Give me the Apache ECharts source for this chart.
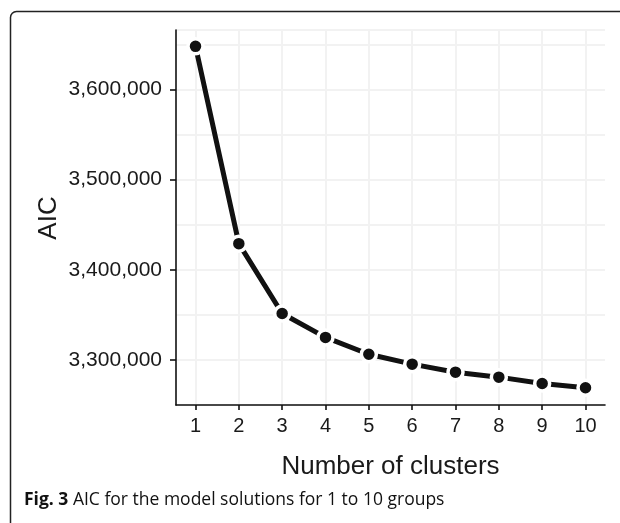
<!DOCTYPE html>
<html>
<head>
<meta charset="utf-8">
<script src="https://cdn.jsdelivr.net/npm/echarts@6/dist/echarts.min.js"></script>
<style>
html,body{margin:0;padding:0;background:#fff;}
#chart{width:620px;height:523px;}
</style>
</head>
<body>
<div id="chart"></div>
<script>
// Data
var clusters = [1, 2, 3, 4, 5, 6, 7, 8, 9, 10];
var aicValues = [3647900, 3429000, 3351500, 3325000, 3306300, 3295300, 3286400, 3280900, 3273900, 3269100];
var yTickValues = [3300000, 3400000, 3500000, 3600000];
var yMinorGridStep = 50000;
var xTickValues = [1, 2, 3, 4, 5, 6, 7, 8, 9, 10];
var xTitle = 'Number of clusters';
var yTitle = 'AIC';
var captionBold = 'Fig. 3';
var captionText = ' AIC for the model solutions for 1 to 10 groups';

function fmt(v) {
  return String(v).replace(/\B(?=(\d{3})+(?!\d))/g, ',');
}

var chart = echarts.init(document.getElementById('chart'), null, {renderer: 'canvas'});
var textColor = '#1a1a1a';
var gridColor = '#f2f2f2';
var font = 'Liberation Sans, Arial, Helvetica, sans-serif';

chart.setOption({
  animation: false,
  backgroundColor: '#fff',
  grid: {left: 176, right: 15, top: 30, bottom: 118, containLabel: false},
  xAxis: {
    type: 'value',
    min: 0.55,
    max: 10.45,
    name: xTitle,
    nameLocation: 'middle',
    nameGap: 49,
    nameTextStyle: {fontFamily: font, fontSize: 26, color: textColor},
    axisLine: {show: true, onZero: false, lineStyle: {color: '#111', width: 1.6}},
    axisTick: {show: true, length: 5, customValues: xTickValues, lineStyle: {color: '#111', width: 1.6}},
    axisLabel: {show: true, customValues: xTickValues, margin: 11, fontFamily: font, fontSize: 20, color: textColor},
    splitLine: {show: true, lineStyle: {color: gridColor, width: 2}}
  },
  yAxis: [
    {
      type: 'value',
      min: 3250000,
      max: 3666000,
      interval: yMinorGridStep,
      axisLine: {show: true, onZero: false, lineStyle: {color: '#111', width: 1.6}},
      axisTick: {show: false},
      axisLabel: {show: false},
      splitLine: {show: true, lineStyle: {color: gridColor, width: 2}}
    },
    {
      type: 'value',
      position: 'left',
      min: 3250000,
      max: 3666000,
      axisLine: {show: false, onZero: false},
      axisTick: {show: true, length: 6, customValues: yTickValues, lineStyle: {color: '#111', width: 1.6}},
      axisLabel: {show: true, customValues: yTickValues, margin: 14, fontFamily: font, fontSize: 21, color: textColor, formatter: function (v) { return fmt(v); }},
      splitLine: {show: false}
    }
  ],
  series: [{
    type: 'line',
    xAxisIndex: 0,
    yAxisIndex: 0,
    data: clusters.map(function (c, i) { return [c, aicValues[i]]; }),
    symbol: 'circle',
    symbolSize: 15,
    showSymbol: true,
    lineStyle: {color: '#111', width: 5},
    itemStyle: {color: '#111', borderColor: '#fff', borderWidth: 3.5},
    z: 5
  }],
  graphic: [
    {
      type: 'rect',
      shape: {x: 10.5, y: 11.5, width: 700, height: 600, r: 6},
      style: {fill: 'none', stroke: '#222', lineWidth: 1.5},
      silent: true,
      z: -1
    },
    {
      type: 'text',
      x: 49,
      y: 218,
      rotation: Math.PI / 2,
      style: {
        text: yTitle,
        fontFamily: font,
        fontSize: 26,
        fill: textColor,
        align: 'center',
        verticalAlign: 'middle'
      }
    },
    {
      type: 'text',
      left: 24,
      top: 491,
      style: {
        text: '{b|' + captionBold + '}{n|' + captionText + '}',
        rich: {
          b: {fontFamily: 'Open Sans, Noto Sans, sans-serif', fontWeight: 'bold', fontSize: 17.5, fill: '#111'},
          n: {fontFamily: 'Open Sans, Noto Sans, sans-serif', fontSize: 17.5, fill: '#111'}
        }
      }
    }
  ]
});
</script>
</body>
</html>
